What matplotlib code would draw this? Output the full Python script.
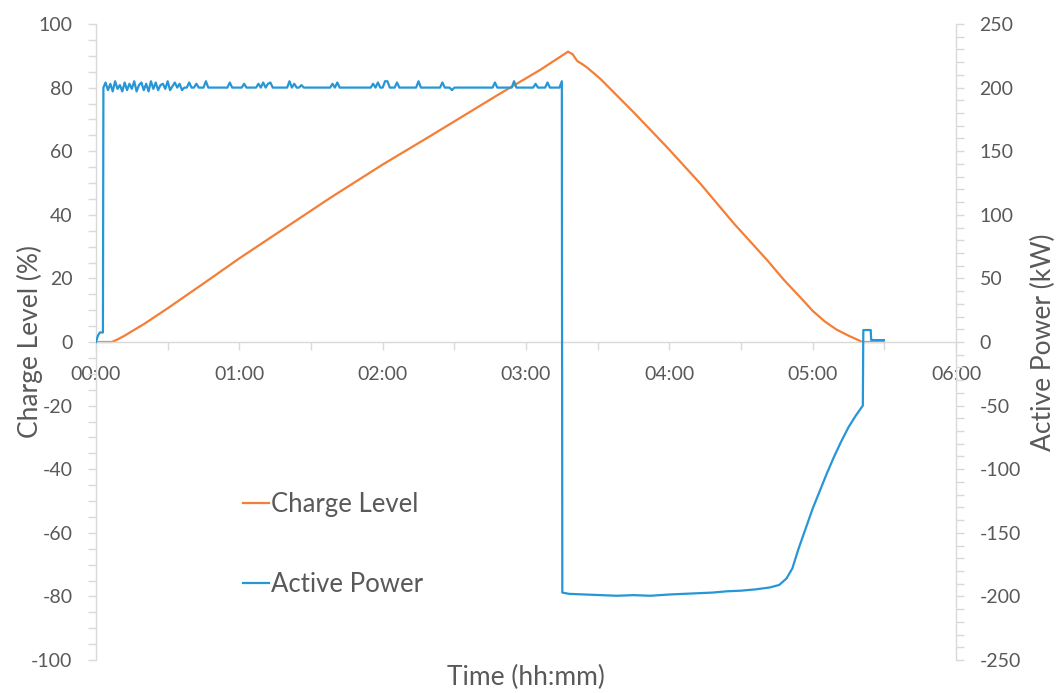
import matplotlib
matplotlib.use("Agg")
import matplotlib.pyplot as plt
from matplotlib.ticker import MultipleLocator, FixedLocator
from matplotlib.lines import Line2D

plt.rcParams['font.family'] = ['Lato', 'DejaVu Sans']
plt.rcParams['axes.unicode_minus'] = False

# ---------------- data (time in minutes) ----------------
charge_t = [0, 6.7, 9, 12, 15.5, 20, 30, 45, 60, 80, 98, 120, 140, 168, 186, 197.6,
            199.5, 201.4, 203.5, 205.6, 211.2, 225.1, 239.1, 253.1, 267.1, 281.0,
            288.0, 295.0, 300.0, 305.0, 310.0, 315.0, 320.8, 329.8]
charge_v = [0, 0, 0.8, 2.0, 3.6, 5.6, 10.6, 18.4, 26.3, 36.3, 45.3, 55.8, 64.8, 77.6,
            85.6, 91.3, 90.5, 88.4, 87.4, 86.3, 82.7, 72.2, 61.2, 49.7, 37.2, 25.7,
            19.5, 13.9, 9.8, 6.5, 3.9, 2.0, 0, 0]

power_start_t = [0, 0.8, 1.6, 2.9, 3.1]
power_start_v = [0, 5, 7.5, 7.5, 200]

plateau_t0 = 4  # first minute of the plateau samples (1-minute steps)
plateau_v = [
    204, 198, 203, 197, 205, 199, 202, 197, 204, 198,
    203, 199, 205, 197, 202, 204, 198, 203, 197, 205,
    199, 204, 198, 202, 203, 199, 205, 198, 201, 204,
    200, 203, 198, 200, 200, 204, 200, 200, 203, 200,
    200, 200, 205, 200, 200, 200, 200, 200, 200, 200,
    200, 200, 204, 200, 200, 200, 200, 200, 203, 200,
    200, 200, 200, 200, 203, 200, 204, 200, 203, 204,
    200, 200, 200, 200, 200, 200, 200, 205, 200, 203,
    200, 200, 202, 200, 200, 200, 200, 200, 200, 200,
    200, 200, 200, 200, 200, 203, 200, 204, 200, 200,
    200, 200, 200, 200, 200, 200, 200, 200, 200, 200,
    200, 200, 203, 200, 204, 200, 200, 205, 205, 200,
    200, 200, 204, 200, 200, 200, 200, 200, 200, 200,
    200, 205, 200, 200, 200, 200, 200, 200, 200, 200,
    200, 204, 200, 200, 200, 198, 200, 200, 200, 200,
    200, 200, 200, 200, 200, 200, 200, 200, 200, 200,
    200, 200, 200, 204, 200, 200, 200, 200, 200, 200,
    200, 205, 200, 200, 200, 200, 200, 200, 200, 200,
    203, 200, 200, 200, 200, 204, 200, 200, 200, 200,
    200, 205,
]

power_end_t = [195.2, 198, 205, 212, 218, 225, 232, 240, 246, 252, 258, 264, 270, 276,
               282, 286, 289, 291.5, 294, 297, 300, 303, 306, 309, 312, 315, 318, 321,
               321.2, 324.3, 324.5, 329.8]
power_end_v = [-197, -198, -198.5, -199, -199.5, -199, -199.5, -198.5, -198, -197.5, -197,
               -196, -195.5, -194.5, -193, -191, -186, -178, -163, -147, -131, -117, -103,
               -90, -78, -67, -58, -50, 9.4, 9.4, 1.5, 1.5]

x_tick_labels = ['00:00', '01:00', '02:00', '03:00', '04:00', '05:00', '06:00']

# assemble power series
plateau_t = [plateau_t0 + i for i in range(len(plateau_v))]
power_t = power_start_t + plateau_t + power_end_t
power_v = power_start_v + plateau_v + power_end_v

# ---------------- styling ----------------
ORANGE = '#F47E35'
BLUE = '#2696D6'
GRID = '#D9D9D9'
TXT = '#595959'

fig = plt.figure(figsize=(10.57, 6.93), dpi=100)
ax = fig.add_axes([96/1057, 33/693, (956-96)/1057, (660-24)/693])
ax2 = ax.twinx()

ax.plot(charge_t, charge_v, color=ORANGE, lw=1.6, solid_joinstyle='round')
ax2.plot(power_t, power_v, color=BLUE, lw=1.6, solid_joinstyle='round')

ax.set_xlim(0, 360)
ax.set_ylim(-100, 100)
ax2.set_ylim(-250, 250)

ax.xaxis.set_major_locator(FixedLocator([0, 60, 120, 180, 240, 300, 360]))
ax.set_xticklabels(x_tick_labels)
ax.xaxis.set_minor_locator(MultipleLocator(30))
ax.yaxis.set_major_locator(MultipleLocator(20))
ax.yaxis.set_minor_locator(MultipleLocator(5))
ax2.yaxis.set_major_locator(MultipleLocator(50))
ax2.yaxis.set_minor_locator(MultipleLocator(10))

for a in (ax, ax2):
    for s in a.spines.values():
        s.set_color(GRID)
        s.set_linewidth(1.0)
    a.spines['top'].set_visible(False)
    a.set_facecolor('none')
ax2.spines['bottom'].set_visible(False)
ax2.spines['left'].set_visible(False)
ax.spines['right'].set_visible(False)
ax.spines['bottom'].set_position(('data', 0))

ax.tick_params(axis='both', which='both', color=GRID, labelcolor=TXT, width=1.0,
               length=5.5, direction='out', labelsize=14)
ax.tick_params(axis='x', which='both', pad=11.5)
ax.tick_params(axis='y', which='both', pad=11.5)
ax2.tick_params(axis='y', which='both', color=GRID, labelcolor=TXT, width=1.0,
                length=5.5, direction='out', labelsize=14, pad=11.5)

ax.set_xlabel('Time (hh:mm)', fontsize=19, color=TXT)
ax.xaxis.set_label_coords(0.5, -0.008)
ax.set_ylabel('Charge Level (%)', fontsize=19, color=TXT)
ax.yaxis.set_label_coords(-0.062, 0.5)
ax2.set_ylabel('Active Power (kW)', fontsize=19, color=TXT, rotation=90)
ax2.yaxis.set_label_coords(1.087, 0.5)

handles = [Line2D([], [], color=ORANGE, lw=1.6), Line2D([], [], color=BLUE, lw=1.6)]
leg = ax.legend(handles, ['Charge Level', 'Active Power'], loc='upper left',
                bbox_to_anchor=(0.156, 0.284), frameon=False, fontsize=18.5,
                handlelength=1.0, handletextpad=0.08, labelspacing=2.15, borderpad=0)
for t in leg.get_texts():
    t.set_color(TXT)

fig.savefig('out.png', dpi=100)
